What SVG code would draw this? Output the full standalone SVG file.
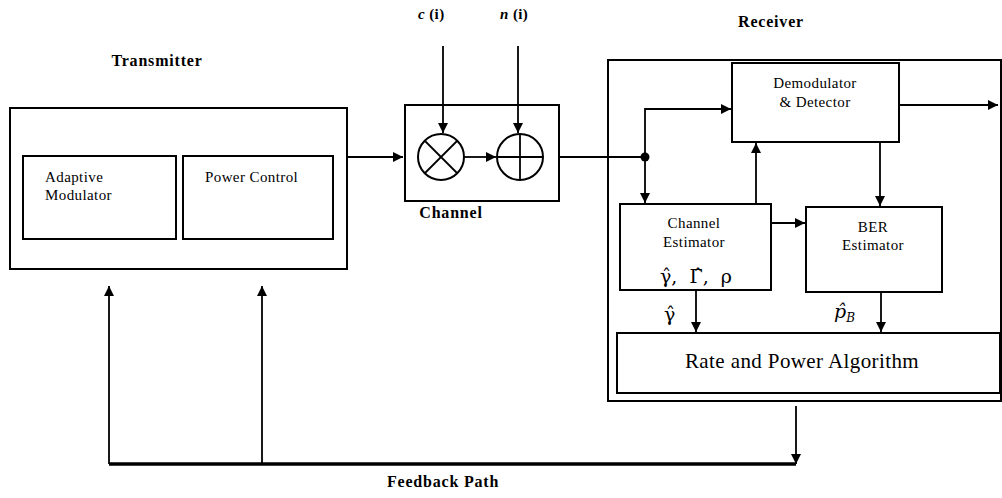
<svg xmlns="http://www.w3.org/2000/svg" width="1002" height="498" viewBox="0 0 1002 498">
<defs>
<style>
.box{fill:none;stroke:#000;stroke-width:2}
.ln{fill:none;stroke:#000;stroke-width:1.8}
.t{font-family:"Liberation Serif",serif;font-size:15px;letter-spacing:0.4px;fill:#000}
.b{font-family:"Liberation Serif",serif;font-size:16px;letter-spacing:0.8px;font-weight:bold;fill:#000}
.g{font-family:"Liberation Serif","DejaVu Serif",serif;font-size:21px;fill:#000}
.gm{font-family:"DejaVu Serif",serif;font-size:19px;fill:#000}
</style>
<marker id="ah" viewBox="0 0 10 10" refX="10" refY="5" markerWidth="10" markerHeight="10" markerUnits="userSpaceOnUse" orient="auto">
<path d="M0,0 L10,5 L0,10 z" fill="#000"/>
</marker>
</defs>
<rect width="1002" height="498" fill="#fff"/>

<g id="transmitter">
<rect class="box" x="10" y="108" width="337" height="161"/>
<text class="b" x="157" y="66" text-anchor="middle">Transmitter</text>
</g>
<g id="adaptive-modulator">
<rect class="box" x="23" y="156" width="153" height="83"/>
<text class="t" x="45" y="182">Adaptive</text>
<text class="t" x="45" y="200">Modulator</text>
</g>
<g id="power-control">
<rect class="box" x="183" y="156" width="150" height="83"/>
<text class="t" x="205" y="182">Power Control</text>
</g>

<g id="channel">
<rect class="box" x="405" y="105" width="154" height="96"/>
<text class="b" x="451" y="218" text-anchor="middle">Channel</text>
<circle cx="441" cy="157" r="23" class="box"/>
<line x1="425" y1="141" x2="457" y2="173" class="ln"/>
<line x1="457" y1="141" x2="425" y2="173" class="ln"/>
<circle cx="520" cy="157" r="23" class="box"/>
<line x1="497" y1="157" x2="543" y2="157" class="ln"/>
<line x1="520" y1="134" x2="520" y2="180" class="ln"/>
<text class="t" x="418" y="19" font-style="italic" font-weight="bold">c<tspan font-style="normal"> (i)</tspan></text>
<text class="t" x="500" y="19" font-style="italic" font-weight="bold">n<tspan font-style="normal"> (i)</tspan></text>
</g>

<g id="receiver">
<rect class="box" x="608" y="60" width="393" height="341"/>
<text class="b" x="771" y="27" text-anchor="middle">Receiver</text>
</g>
<g id="demodulator">
<rect class="box" x="732" y="63" width="167" height="79"/>
<text class="t" x="815" y="88" text-anchor="middle">Demodulator</text>
<text class="t" x="815" y="107" text-anchor="middle">&amp; Detector</text>
</g>
<g id="channel-estimator">
<rect class="box" x="620" y="204" width="151" height="86"/>
<text class="t" x="694" y="228" text-anchor="middle">Channel</text>
<text class="t" x="694" y="247" text-anchor="middle">Estimator</text>
<text class="gm" x="696" y="283" text-anchor="middle">γ̂,&#160; Γ̂,&#160; ρ</text>
</g>
<g id="ber-estimator">
<rect class="box" x="806" y="207" width="136" height="85"/>
<text class="t" x="873" y="232" text-anchor="middle">BER</text>
<text class="t" x="873" y="250" text-anchor="middle">Estimator</text>
</g>
<g id="rate-power">
<rect class="box" x="617" y="333" width="383" height="60"/>
<text class="g" x="802" y="368" text-anchor="middle" font-size="20" letter-spacing="0.4">Rate and Power Algorithm</text>
</g>
<g id="feedback-label">
<text class="b" x="443" y="487" text-anchor="middle">Feedback Path</text>
</g>

<g id="connectors">
<line class="ln" x1="347" y1="157" x2="403" y2="157" marker-end="url(#ah)"/>
<line class="ln" x1="443" y1="46" x2="443" y2="133" marker-end="url(#ah)"/>
<line class="ln" x1="518" y1="46" x2="518" y2="133" marker-end="url(#ah)"/>
<line class="ln" x1="464" y1="157" x2="496" y2="157" marker-end="url(#ah)"/>
<line class="ln" x1="559" y1="157" x2="645" y2="157"/>
<circle cx="645" cy="157" r="4.5" fill="#000"/>
<polyline class="ln" points="645,157 645,109 731,109" marker-end="url(#ah)"/>
<line class="ln" x1="645" y1="157" x2="645" y2="203" marker-end="url(#ah)"/>
<line class="ln" x1="756" y1="204" x2="756" y2="143" marker-end="url(#ah)"/>
<line class="ln" x1="880" y1="142" x2="880" y2="206" marker-end="url(#ah)"/>
<line class="ln" x1="771" y1="223" x2="805" y2="223" marker-end="url(#ah)"/>
<line class="ln" x1="899" y1="105" x2="998" y2="105" marker-end="url(#ah)"/>
<line class="ln" x1="696" y1="290" x2="696" y2="332" marker-end="url(#ah)"/>
<line class="ln" x1="881" y1="292" x2="881" y2="332" marker-end="url(#ah)"/>
<text class="gm" x="664" y="321">γ̂</text>
<text class="gm" x="834" y="318" font-style="italic">p̂<tspan font-size="12" dy="4">B</tspan></text>
<line class="ln" x1="796" y1="406" x2="796" y2="464" marker-end="url(#ah)"/>
<polyline fill="none" stroke="#000" stroke-width="3.5" points="796,464 109,464"/>
<line class="ln" x1="109" y1="464" x2="109" y2="286" marker-end="url(#ah)"/>
<line class="ln" x1="262" y1="464" x2="262" y2="286" marker-end="url(#ah)"/>
</g>
</svg>
